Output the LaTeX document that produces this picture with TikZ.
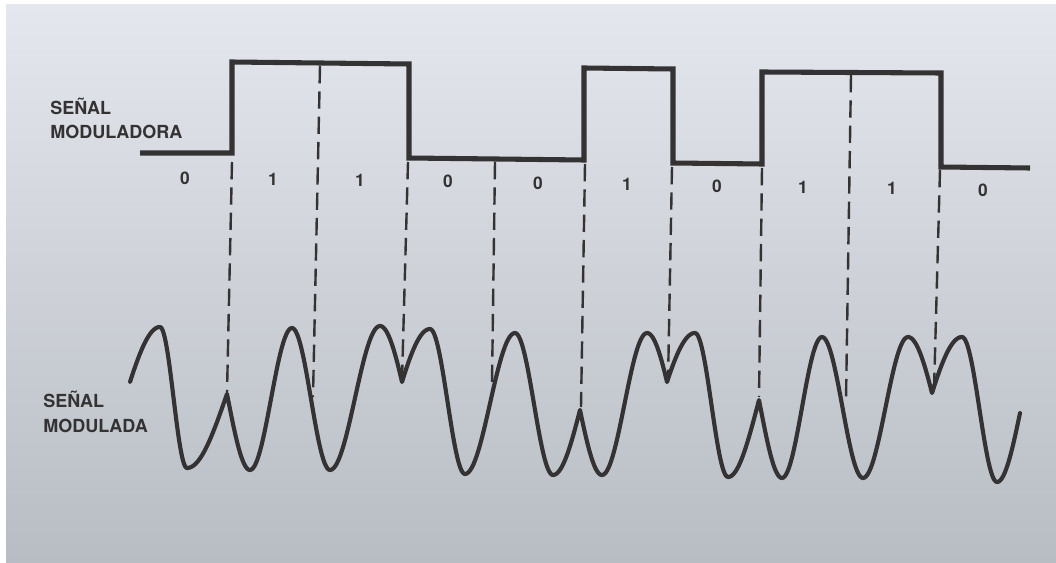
\documentclass[tikz,border=0pt]{standalone}
\usepackage{fontspec}
\setmainfont{TeX Gyre Heros}
\definecolor{bgtop}{RGB}{228,231,237}
\definecolor{bgmid}{RGB}{206,210,216}
\definecolor{bgbot}{RGB}{184,189,196}
\definecolor{ink}{RGB}{52,50,50}
\newcommand\segEE[4]{-- plot[domain=0:1,samples=30,variable=\t] ({#1+(#3-#1)*\t},{(#2+#4)/2+(#2-#4)/2*cos(180*\t)})}
\newcommand\segEC[6]{-- plot[domain=0:1,samples=30,variable=\t] ({#1+(#3-#1)*\t},{#5+(#2-#5)*cos(#6*\t)})}
\newcommand\segCE[6]{-- plot[domain=0:1,samples=30,variable=\t] ({#1+(#3-#1)*\t},{#5+(#4-#5)*cos(#6*(1-\t))})}
\tikzset{
  square/.style={draw=ink, line width=3.8pt, line join=miter},
  wave/.style={draw=ink, line width=3.1pt, line join=round, line cap=round},
  dashline/.style={draw=ink, line width=1.8pt, dash pattern=on 13pt off 6pt},
  label/.style={font=\bfseries\fontsize{13.5}{16}\selectfont, text=ink, inner sep=0pt, anchor=base west},
  bit/.style={font=\bfseries\fontsize{13}{15}\selectfont, text=ink, inner sep=0pt}
}
\begin{document}
\begin{tikzpicture}[x=0.75pt, y=-0.75pt]
\useasboundingbox (0,0) rectangle (1056,563);
\fill[white] (0,0) rectangle (1056,563);
\shade[top color=bgtop, bottom color=bgbot, middle color=bgmid] (6,5) rectangle (1056,563);

% modulating signal
\draw[square] (140,153) -- (232,153) -- (232,62) -- (409,64) -- (409,158) -- (584,160) -- (584,68) -- (673,69) -- (673,163) -- (762,164) -- (762,72) -- (941,73) -- (941,167) -- (1030,168);

% labels
\node[label] (l1) at (50,115) {SEÑAL};
\node[label] (l2) at (50,139) {MODULADORA};
\node[label] (l3) at (43,407) {SEÑAL};
\node[label] (l4) at (43,432) {MODULADA};

% bits
\node[bit] (b1) at (185,178) {0};
\node[bit] (b2) at (273,179) {1};
\node[bit] (b3) at (360,180) {1};
\node[bit] (b4) at (448,181) {0};
\node[bit] (b5) at (538,183) {0};
\node[bit] (b6) at (627,184) {1};
\node[bit] (b7) at (717,186) {0};
\node[bit] (b8) at (803,187) {1};
\node[bit] (b9) at (892,188) {1};
\node[bit] (b10) at (983,190) {0};

% dashed boundaries
\coordinate (d1t) at (232,162); \coordinate (d1b) at (227,393);
\coordinate (d2t) at (320,66);  \coordinate (d2b) at (313,397);
\coordinate (d3t) at (408,162); \coordinate (d3b) at (402,380);
\coordinate (d4t) at (495,162); \coordinate (d4b) at (492,383);
\coordinate (d5t) at (585,164); \coordinate (d5b) at (581,407);
\coordinate (d6t) at (672,167); \coordinate (d6b) at (668,382);
\coordinate (d7t) at (762,168); \coordinate (d7b) at (759,397);
\coordinate (d8t) at (851,75);  \coordinate (d8b) at (846,400);
\coordinate (d9t) at (940,170); \coordinate (d9b) at (934,390);
\foreach \i in {1,...,9} \draw[dashline] (d\i t) -- (d\i b);

% modulated signal
\draw[wave] (130,382)
\segCE{130}{382}{160}{327}{397.5}{77.3}
\segEE{160}{327}{187}{468}
\segEC{187}{468}{227}{394}{398}{93.3}
\segCE{227}{394}{250}{470}{399}{94}
\segEE{250}{470}{292}{328}
\segEE{292}{328}{330}{470}
\segEE{330}{470}{380}{326}
\segEC{380}{326}{402}{382}{399}{76.5}
\segCE{402}{382}{430}{329}{401.5}{74.4}
\segEE{430}{329}{465}{474}
\segEE{465}{474}{515}{333}
\segEE{515}{333}{553}{475}
\segEC{553}{475}{580}{410}{404}{85.2}
\segCE{580}{410}{602}{475}{404}{85.2}
\segEE{602}{475}{647}{333}
\segEC{647}{333}{667}{382}{404.5}{71.7}
\segCE{667}{382}{695}{333}{404.5}{71.7}
\segEE{695}{333}{728}{477}
\segEC{728}{477}{759}{400}{406}{94.8}
\segCE{759}{400}{782}{478}{407.5}{96.1}
\segEE{782}{478}{822}{337}
\segEE{822}{337}{863}{478}
\segEE{863}{478}{908}{337}
\segEC{908}{337}{932}{393}{408.5}{77.5}
\segCE{932}{393}{962}{337}{408.5}{77.5}
\segEE{962}{337}{997}{482}
\segEC{997}{482}{1020}{413}{409.5}{87.2};
\end{tikzpicture}
\end{document}
